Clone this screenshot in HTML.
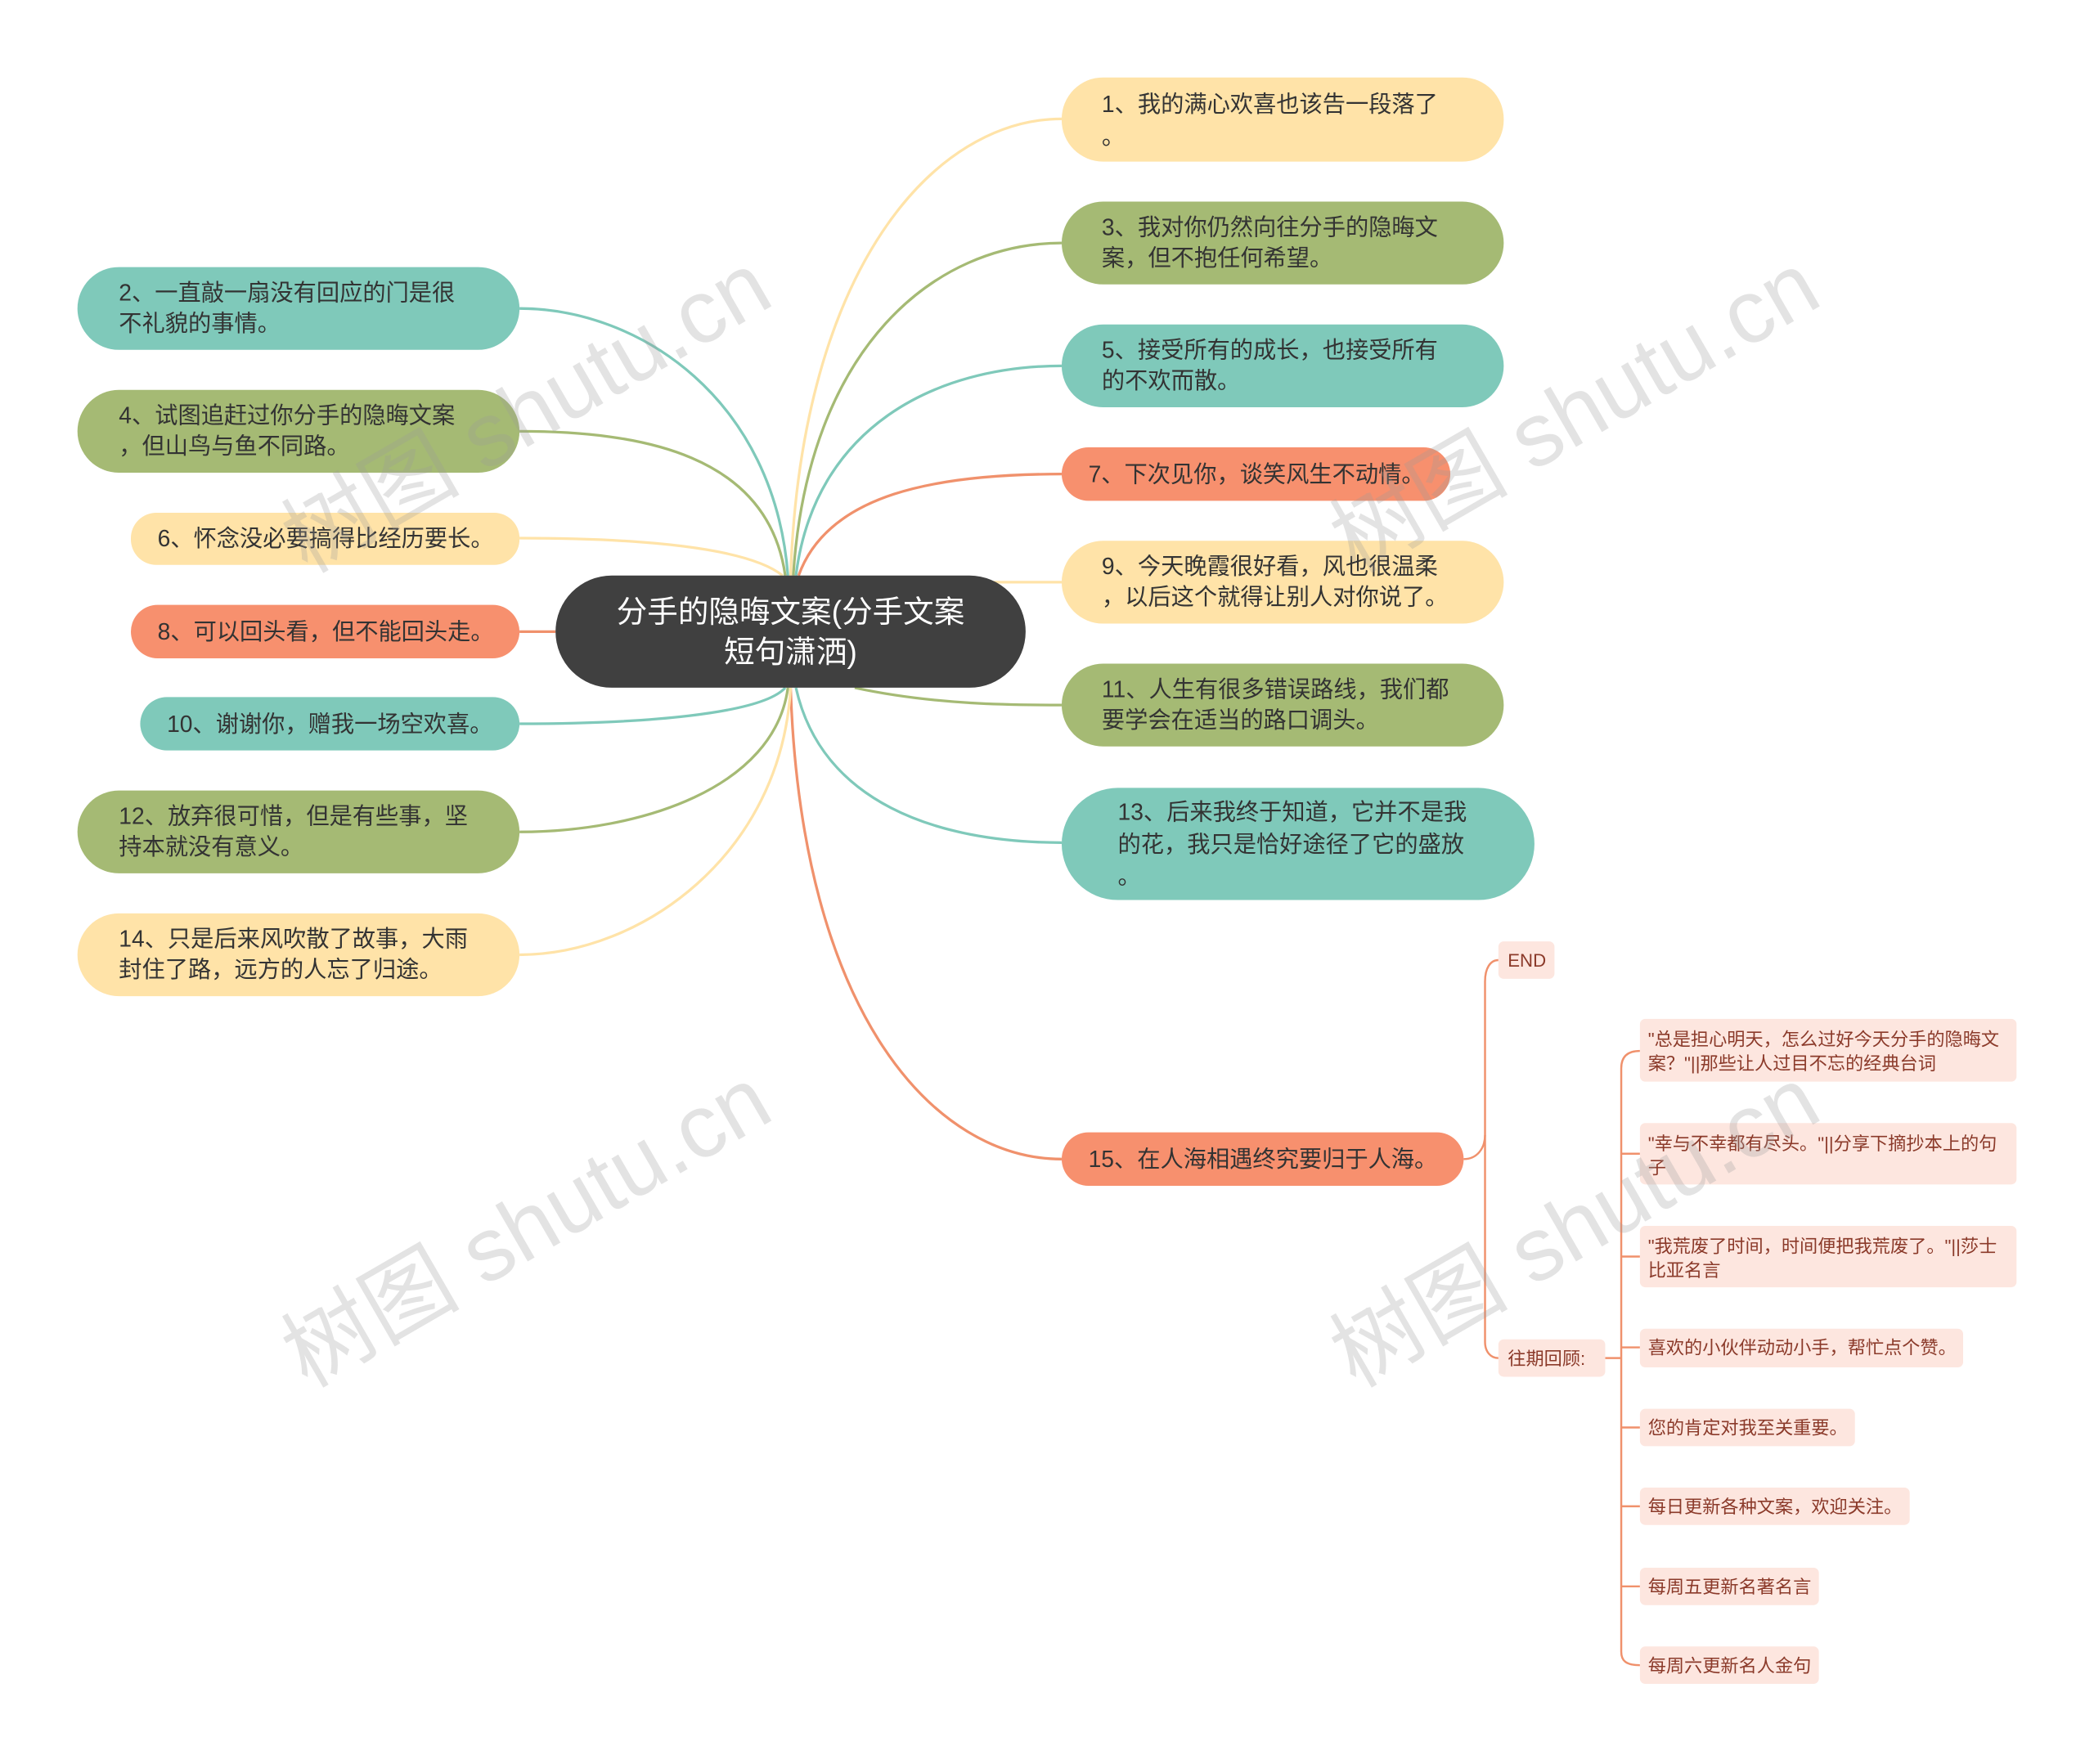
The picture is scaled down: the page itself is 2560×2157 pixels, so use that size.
<!DOCTYPE html>
<html><head><meta charset="utf-8">
<style>
html,body{margin:0;padding:0;background:#fff;}
svg{display:block;}
text{font-family:"Liberation Sans","Noto Sans CJK SC",sans-serif;}
</style></head>
<body>
<svg width="2560" height="2157" viewBox="0 0 1568 1321" preserveAspectRatio="none" xmlns="http://www.w3.org/2000/svg">
<g fill="none" stroke-width="2">
<path d="M592 431 C600 200 700 89 795 89" stroke="#FFE3A8"/>
<path d="M594 431 C605 260 700 182 795 182" stroke="#A5BA74"/>
<path d="M596 431 C610 320 700 274 795 274" stroke="#7FC9BA"/>
<path d="M598 431 C620 370 700 355 795 355" stroke="#F0916C"/>
<path d="M740 436 C760 436 780 436 795 436" stroke="#FFE3A8"/>
<path d="M640 515 C700 528 760 528 795 528" stroke="#A5BA74"/>
<path d="M596 515 C615 600 700 631 795 631" stroke="#7FC9BA"/>
<path d="M592 515 C600 760 700 868 795 868" stroke="#F0916C"/>
<path d="M590 431 C580 300 480 231 389 231" stroke="#7FC9BA"/>
<path d="M588 431 C575 340 480 323 389 323" stroke="#A5BA74"/>
<path d="M586 431 C560 410 480 403 389 403" stroke="#FFE3A8"/>
<path d="M416 473 L389 473" stroke="#F0916C"/>
<path d="M588 515 C570 535 480 542 389 542" stroke="#7FC9BA"/>
<path d="M590 515 C580 590 480 623 389 623" stroke="#A5BA74"/>
<path d="M592 515 C585 640 480 715 389 715" stroke="#FFE3A8"/>
<path d="M1096 868 C1106 868 1112 860 1112 850 L1112 735 C1112 725 1116 719 1122 719" stroke="#F0916C" stroke-width="1.5"/>
<path d="M1112 850 L1112 1005 C1112 1012 1116 1017 1122 1017" stroke="#F0916C" stroke-width="1.5"/>
<path d="M1202 1017 L1214 1017" stroke="#F0916C" stroke-width="1.5"/>
<path d="M1214 800 C1214 792 1218 787 1228 787 M1214 800 L1214 1237 C1214 1244 1218 1247 1228 1247" stroke="#F0916C" stroke-width="1.5"/>
<path d="M1214 864 L1228 864 M1214 941 L1228 941 M1214 1009 L1228 1009 M1214 1069 L1228 1069 M1214 1128 L1228 1128 M1214 1188 L1228 1188" stroke="#F0916C" stroke-width="1.5"/>
</g>

<rect x="416" y="431" width="352" height="84" rx="42" fill="#404040"/>
<text x="592" y="466" font-size="23" fill="#fff" text-anchor="middle">分手的隐晦文案(分手文案</text>
<text x="592" y="496" font-size="23" fill="#fff" text-anchor="middle">短句潇洒)</text>

<g font-size="17.3" fill="#333">
<rect x="795" y="58" width="331" height="63" rx="31" fill="#FFE3A8"/>
<text x="825" y="84">1、我的满心欢喜也该告一段落了</text><text x="825" y="108">。</text>
<rect x="795" y="151" width="331" height="62" rx="31" fill="#A5BA74"/>
<text x="825" y="176">3、我对你仍然向往分手的隐晦文</text><text x="825" y="199">案，但不抱任何希望。</text>
<rect x="795" y="243" width="331" height="62" rx="31" fill="#7FC9BA"/>
<text x="825" y="268">5、接受所有的成长，也接受所有</text><text x="825" y="291">的不欢而散。</text>
<rect x="795" y="335" width="291" height="40" rx="20" fill="#F7906E"/>
<text x="815" y="361">7、下次见你，谈笑风生不动情。</text>
<rect x="795" y="405" width="331" height="62" rx="31" fill="#FFE3A8"/>
<text x="825" y="430">9、今天晚霞很好看，风也很温柔</text><text x="825" y="453">，以后这个就得让别人对你说了。</text>
<rect x="795" y="497" width="331" height="62" rx="31" fill="#A5BA74"/>
<text x="825" y="522">11、人生有很多错误路线，我们都</text><text x="825" y="545">要学会在适当的路口调头。</text>
<rect x="795" y="590" width="354" height="84" rx="42" fill="#7FC9BA"/>
<text x="837" y="614">13、后来我终于知道，它并不是我</text><text x="837" y="638">的花，我只是恰好途径了它的盛放</text><text x="837" y="662">。</text>
<rect x="795" y="848" width="301" height="40" rx="20" fill="#F7906E"/>
<text x="815" y="874">15、在人海相遇终究要归于人海。</text>

<rect x="58" y="200" width="331" height="62" rx="31" fill="#7FC9BA"/>
<text x="89" y="225">2、一直敲一扇没有回应的门是很</text><text x="89" y="248">不礼貌的事情。</text>
<rect x="58" y="292" width="331" height="62" rx="31" fill="#A5BA74"/>
<text x="89" y="317">4、试图追赶过你分手的隐晦文案</text><text x="89" y="340">，但山鸟与鱼不同路。</text>
<rect x="98" y="384" width="291" height="39" rx="19" fill="#FFE3A8"/>
<text x="118" y="409">6、怀念没必要搞得比经历要长。</text>
<rect x="98" y="453" width="291" height="40" rx="20" fill="#F7906E"/>
<text x="118" y="479">8、可以回头看，但不能回头走。</text>
<rect x="105" y="522" width="284" height="40" rx="20" fill="#7FC9BA"/>
<text x="125" y="548">10、谢谢你，赠我一场空欢喜。</text>
<rect x="58" y="592" width="331" height="62" rx="31" fill="#A5BA74"/>
<text x="89" y="617">12、放弃很可惜，但是有些事，坚</text><text x="89" y="640">持本就没有意义。</text>
<rect x="58" y="684" width="331" height="62" rx="31" fill="#FFE3A8"/>
<text x="89" y="709">14、只是后来风吹散了故事，大雨</text><text x="89" y="732">封住了路，远方的人忘了归途。</text>
</g>

<g font-size="13.6" fill="#8B3A2A">
<rect x="1122" y="705" width="42" height="28" rx="4" fill="#FDE6DF"/>
<text x="1129" y="724">END</text>
<rect x="1122" y="1003" width="80" height="28" rx="4" fill="#FDE6DF"/>
<text x="1129" y="1022">往期回顾:</text>
<rect x="1228" y="763" width="282" height="47" rx="4" fill="#FDE6DF"/>
<text x="1234" y="783">"总是担心明天，怎么过好今天分手的隐晦文</text><text x="1234" y="801">案？"||那些让人过目不忘的经典台词</text>
<rect x="1228" y="841" width="282" height="46" rx="4" fill="#FDE6DF"/>
<text x="1234" y="861">"幸与不幸都有尽头。"||分享下摘抄本上的句</text><text x="1234" y="879">子</text>
<rect x="1228" y="918" width="282" height="46" rx="4" fill="#FDE6DF"/>
<text x="1234" y="938">"我荒废了时间，时间便把我荒废了。"||莎士</text><text x="1234" y="956">比亚名言</text>
<rect x="1228" y="995" width="242" height="29" rx="4" fill="#FDE6DF"/>
<text x="1234" y="1014">喜欢的小伙伴动动小手，帮忙点个赞。</text>
<rect x="1228" y="1055" width="161" height="28" rx="4" fill="#FDE6DF"/>
<text x="1234" y="1074">您的肯定对我至关重要。</text>
<rect x="1228" y="1114" width="202" height="28" rx="4" fill="#FDE6DF"/>
<text x="1234" y="1133">每日更新各种文案，欢迎关注。</text>
<rect x="1228" y="1174" width="134" height="28" rx="4" fill="#FDE6DF"/>
<text x="1234" y="1193">每周五更新名著名言</text>
<rect x="1228" y="1233" width="134" height="28" rx="4" fill="#FDE6DF"/>
<text x="1234" y="1252">每周六更新名人金句</text>
</g>

<g font-size="67" fill="#999" fill-opacity="0.28" font-family="Liberation Serif, Noto Serif CJK SC, serif">
<text x="0" y="0" transform="translate(230 430) rotate(-30)">树图 shutu.cn</text>
<text x="0" y="0" transform="translate(1015 430) rotate(-30)">树图 shutu.cn</text>
<text x="0" y="0" transform="translate(230 1040) rotate(-30)">树图 shutu.cn</text>
<text x="0" y="0" transform="translate(1015 1040) rotate(-30)">树图 shutu.cn</text>
</g>
</svg>
</body></html>
